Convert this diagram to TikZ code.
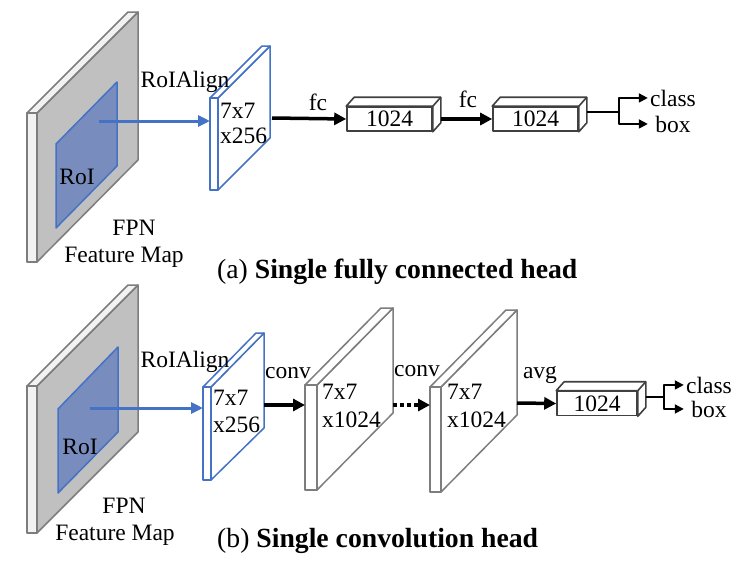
\documentclass[tikz,border=0pt]{standalone}
\usepackage{fontspec}
\setmainfont{Liberation Serif}
\usetikzlibrary{arrows.meta,calc}
\definecolor{sidegray}{RGB}{192,192,192}
\definecolor{frontgray}{RGB}{242,242,242}
\definecolor{edgegray}{RGB}{125,125,125}
\definecolor{roiblue}{RGB}{68,114,196}
\definecolor{roifill}{RGB}{120,141,190}
\begin{document}
\begin{tikzpicture}[x=1pt, y=-1pt, line join=round,
    lbl/.style={inner sep=0pt, font=\fontsize{23.5}{25}\selectfont},
    captext/.style={inner sep=0pt, font=\fontsize{27.7}{30}\selectfont},
    outlbl/.style={lbl, minimum width=50pt},
    fmside/.style={fill=sidegray, draw=edgegray, line width=1.5pt},
    fmfront/.style={fill=frontgray, draw=edgegray, line width=1.5pt},
    roi/.style={fill=roifill, draw=roiblue, line width=1.5pt},
    poolslab/.style={fill=white, draw=roiblue, line width=1.5pt},
    convslab/.style={fill=white, draw=edgegray, line width=1.5pt},
    vecbox/.style={draw=black!75, fill=white, line width=1.6pt, inner sep=0pt,
        minimum height=24pt, font=\fontsize{23.5}{25}\selectfont},
    boxdepth/.style={draw=black!75, fill=white, line width=1.6pt},
    thickarr/.style={line width=3.5pt, -{Triangle[length=12pt,width=12pt]}},
    dotarr/.style={thickarr, dash pattern=on 3.5pt off 3.5pt},
    bluearr/.style={roiblue, line width=3pt, -{Triangle[length=12pt,width=11pt]}},
    smallarr/.style={line width=1.8pt, -{Triangle[length=9pt,width=9pt]}}]
    \useasboundingbox (0,0) rectangle (738,560);

    % (a) fully connected head
    \draw[fmside] (37,113) -- (138,12) -- (138,160) -- (37,262) -- cycle;
    \draw[fmfront] (27,113) -- (128,12) -- (138,12) -- (37,113) -- cycle;
    \draw[fmfront] (27,113) rectangle (37,262);
    \draw[roi] (56,144) -- (117,82) -- (117,166) -- (56,228) -- cycle;
    \node[lbl, anchor=base] (roia) at (77,184) {RoI};
    \node[lbl, anchor=base] (fpna) at (134,235) {FPN};
    \node[lbl, anchor=base] (fmapa) at (124,262) {Feature Map};

    \draw[poolslab] (218,98) -- (270,46) -- (270,138) -- (218,190) -- cycle;
    \draw[poolslab] (210,98) -- (262,46) -- (270,46) -- (218,98) -- cycle;
    \draw[poolslab] (210,98) rectangle (218,190);
    \node[lbl, anchor=base west] (dima1) at (220,118) {7x7};
    \node[lbl, anchor=base west] (dima2) at (220,143) {x256};
    \node[lbl, anchor=base] (aligna) at (185,87) {RoIAlign};
    \coordinate (roica) at (99,121);
    \coordinate (poolina) at (210,121);
    \coordinate (poolouta) at (272,118);
    \draw[bluearr] (roica) -- (poolina);

    \node[vecbox, minimum width=85pt] (fca) at (389.5,119) {1024};
    \node[vecbox, minimum width=85pt] (fcb) at (535.5,119) {1024};
    \node[vecbox, minimum width=80pt] (avgb) at (597,403.5) {1024};
    \foreach \b in {fca, fcb, avgb} {
        \draw[boxdepth] (\b.north west) -- ++(8,-9) -- ($(\b.north east)+(8,-9)$)
            -- ($(\b.south east)+(8,-9)$) -- (\b.south east) -- (\b.north east) -- cycle;
        \draw[boxdepth] (\b.north east) -- ++(8,-9);
    }
    \node[outlbl, anchor=base] (clsa) at (673,106) {class};
    \node[outlbl, anchor=base] (boxa) at (673,132) {box};
    \node[lbl, anchor=base] (fclbla) at (318,110) {fc};
    \node[lbl, anchor=base] (fclblb) at (468,107) {fc};
    \draw[thickarr] (poolouta) -- (fca.west);
    \draw[thickarr] ($(fca.east)+(8,0)$) -- (fcb.west);
    \coordinate (splita) at (619,112);
    \draw[line width=1.8pt] ($(fcb.east)+(8,-7)$) -- (splita);
    \draw[smallarr] (splita) |- (clsa.west);
    \draw[smallarr] (splita) |- (boxa.west);
    \node[captext, anchor=base west] (capa) at (217,278) {(a) \textbf{Single fully connected head}};

    % (b) convolution head
    \draw[fmside] (37,386) -- (138,285) -- (138,432) -- (37,533) -- cycle;
    \draw[fmfront] (27,386) -- (128,285) -- (138,285) -- (37,386) -- cycle;
    \draw[fmfront] (27,386) rectangle (37,533);
    \draw[roi] (58,409) -- (118,347) -- (118,432) -- (58,493) -- cycle;
    \node[lbl, anchor=base] (roib) at (80,454) {RoI};
    \node[lbl, anchor=base] (fpnb) at (124,513) {FPN};
    \node[lbl, anchor=base] (fmapb) at (115,540) {Feature Map};

    \draw[poolslab] (211,387) -- (264,333) -- (264,428) -- (211,480) -- cycle;
    \draw[poolslab] (203,387) -- (256,333) -- (264,333) -- (211,387) -- cycle;
    \draw[poolslab] (203,387) rectangle (211,480);
    \node[lbl, anchor=base west] (dimb1) at (213,405) {7x7};
    \node[lbl, anchor=base west] (dimb2) at (213,432) {x256};
    \node[lbl, anchor=base] (alignb) at (185,367) {RoIAlign};
    \coordinate (roicb) at (90,408);
    \coordinate (poolinb) at (203,408);
    \coordinate (pooloutb) at (264,405);
    \draw[bluearr] (roicb) -- (poolinb);

    \foreach \x/\y/\w/\n in {305/385/12/1, 430/387/11/2} {
        \draw[convslab] (\x+\w,\y) -- (\x+\w+76,\y-77) -- (\x+\w+76,\y+28) -- (\x+\w,\y+105) -- cycle;
        \draw[convslab] (\x,\y) -- (\x+76,\y-77) -- (\x+\w+76,\y-77) -- (\x+\w,\y) -- cycle;
        \draw[convslab] (\x,\y) rectangle (\x+\w,\y+105);
        \node[lbl, anchor=base west] (conv\n a) at (\x+17,399) {7x7};
        \node[lbl, anchor=base west] (conv\n b) at (\x+17,427) {x1024};
        \coordinate (convin\n) at (\x,405);
        \coordinate (convout\n) at (\x+\w+76,403);
    }
    \node[outlbl, anchor=base] (clsb) at (709,393) {class};
    \node[outlbl, anchor=base] (boxb) at (709,417) {box};
    \node[lbl, anchor=base] (convlbla) at (288,378) {conv};
    \node[lbl, anchor=base] (convlblb) at (417,376) {conv};
    \node[lbl, anchor=base] (avglbl) at (540,378) {avg};
    \draw[thickarr] (pooloutb) -- (convin1);
    \draw[dotarr] (convout1 |- convin2) -- (convin2);
    \draw[thickarr] (convout2) -- (avgb.west);
    \coordinate (splitb) at (664,397);
    \draw[line width=1.8pt] ($(avgb.east)+(8,-6.5)$) -- (splitb);
    \draw[smallarr] (splitb) |- (clsb.west);
    \draw[smallarr] (splitb) |- (boxb.west);
    \node[captext, anchor=base west] (capb) at (217,547) {(b) \textbf{Single convolution head}};
\end{tikzpicture}
\end{document}
